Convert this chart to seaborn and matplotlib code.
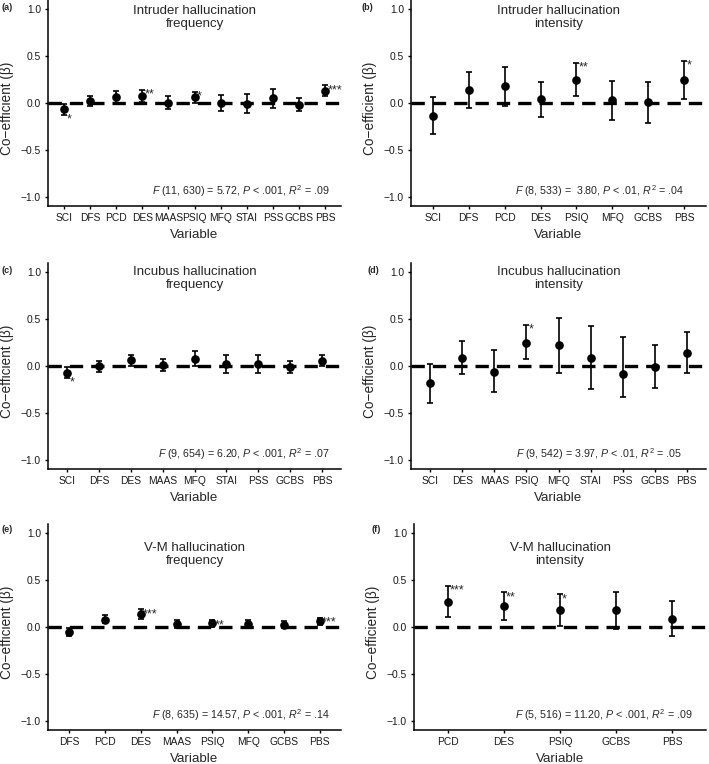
import matplotlib
matplotlib.use("Agg")
import matplotlib.pyplot as plt
import numpy as np
import seaborn as sns

# --- data ---------------------------------------------------------------
a_vars = ["SCI", "DFS", "PCD", "DES", "MAAS", "PSIQ", "MFQ", "STAI", "PSS", "GCBS", "PBS"]
a_beta = [-0.06, 0.02, 0.06, 0.08, 0.00, 0.06, 0.00, -0.01, 0.05, -0.02, 0.13]
a_lo = [-0.13, -0.03, 0.00, 0.01, -0.06, 0.00, -0.09, -0.11, -0.05, -0.09, 0.07]
a_hi = [-0.01, 0.07, 0.13, 0.14, 0.08, 0.12, 0.09, 0.10, 0.15, 0.05, 0.19]
a_sig = ["*", "", "", "**", "", "*", "", "", "", "", "***"]

b_vars = ["SCI", "DFS", "PCD", "DES", "PSIQ", "MFQ", "GCBS", "PBS"]
b_beta = [-0.14, 0.14, 0.18, 0.04, 0.25, 0.03, 0.01, 0.25]
b_lo = [-0.33, -0.05, -0.03, -0.15, 0.08, -0.18, -0.21, 0.04]
b_hi = [0.06, 0.33, 0.38, 0.22, 0.43, 0.23, 0.22, 0.45]
b_sig = ["", "", "", "", "**", "", "", "*"]

c_vars = ["SCI", "DFS", "DES", "MAAS", "MFQ", "STAI", "PSS", "GCBS", "PBS"]
c_beta = [-0.07, 0.00, 0.06, 0.01, 0.07, 0.02, 0.02, -0.01, 0.05]
c_lo = [-0.13, -0.06, 0.00, -0.05, 0.00, -0.08, -0.07, -0.08, 0.00]
c_hi = [-0.01, 0.05, 0.12, 0.08, 0.16, 0.12, 0.12, 0.05, 0.12]
c_sig = ["*", "", "", "", "", "", "", "", ""]

d_vars = ["SCI", "DES", "MAAS", "PSIQ", "MFQ", "STAI", "PSS", "GCBS", "PBS"]
d_beta = [-0.18, 0.09, -0.06, 0.25, 0.22, 0.09, -0.09, -0.01, 0.14]
d_lo = [-0.39, -0.09, -0.28, 0.07, -0.07, -0.25, -0.33, -0.24, -0.08]
d_hi = [0.02, 0.27, 0.17, 0.44, 0.51, 0.43, 0.31, 0.22, 0.36]
d_sig = ["", "", "", "*", "", "", "", "", ""]

e_vars = ["DFS", "PCD", "DES", "MAAS", "PSIQ", "MFQ", "GCBS", "PBS"]
e_beta = [-0.05, 0.08, 0.14, 0.03, 0.04, 0.03, 0.02, 0.06]
e_lo = [-0.10, 0.04, 0.09, -0.01, 0.00, 0.00, -0.01, 0.02]
e_hi = [-0.01, 0.13, 0.19, 0.07, 0.07, 0.07, 0.06, 0.10]
e_sig = ["", "", "***", "", "**", "", "", "***"]

f_vars = ["PCD", "DES", "PSIQ", "GCBS", "PBS"]
f_beta = [0.27, 0.22, 0.18, 0.18, 0.09]
f_lo = [0.11, 0.07, 0.01, -0.02, -0.10]
f_hi = [0.44, 0.37, 0.35, 0.37, 0.28]
f_sig = ["***", "**", "*", "", ""]

titles = ["Intruder hallucination\nfrequency", "Intruder hallucination\nintensity",
          "Incubus hallucination\nfrequency", "Incubus hallucination\nintensity",
          "V-M hallucination\nfrequency", "V-M hallucination\nintensity"]
stats = [
    r"$\it{F}$ (11, 630) = 5.72, $\it{P}$ < .001, $\it{R}^2$ = .09",
    r"$\it{F}$ (8, 533) =  3.80, $\it{P}$ < .01, $\it{R}^2$ = .04",
    r"$\it{F}$ (9, 654) = 6.20, $\it{P}$ < .001, $\it{R}^2$ = .07",
    r"$\it{F}$ (9, 542) = 3.97, $\it{P}$ < .01, $\it{R}^2$ = .05",
    r"$\it{F}$ (8, 635) = 14.57, $\it{P}$ < .001, $\it{R}^2$ = .14",
    r"$\it{F}$ (5, 516) = 11.20, $\it{P}$ < .001, $\it{R}^2$ = .09",
]
letters = ["(a)", "(b)", "(c)", "(d)", "(e)", "(f)"]

panels = [
    (a_vars, a_beta, a_lo, a_hi, a_sig),
    (b_vars, b_beta, b_lo, b_hi, b_sig),
    (c_vars, c_beta, c_lo, c_hi, c_sig),
    (d_vars, d_beta, d_lo, d_hi, d_sig),
    (e_vars, e_beta, e_lo, e_hi, e_sig),
    (f_vars, f_beta, f_lo, f_hi, f_sig),
]

# --- layout (pixels in the 709x764 canvas) ------------------------------
W, H = 709, 764
rects = [(48, 0, 293, 206), (411, 0, 295, 206),
         (48, 263, 293, 206), (411, 263, 295, 206),
         (48, 524, 293, 206), (414, 524, 292, 206)]
title_y = [0.915, 0.915, 0.935, 0.935, 0.77, 0.77]
stat_right = [330, 684, 330, 682, 330, 693]
letter_pos = [(2, 7), (362, 7), (2, 270), (368, 270), (2, 529), (372, 529)]

sns.set_style("ticks")
plt.rcParams["font.family"] = ["Liberation Sans", "DejaVu Sans"]
plt.rcParams["mathtext.fontset"] = "custom"
plt.rcParams["mathtext.rm"] = "Liberation Sans"
plt.rcParams["mathtext.it"] = "Liberation Sans:italic"

fig = plt.figure(figsize=(W / 100, H / 100), dpi=100)

for k, (vars_, beta, lo, hi, sig) in enumerate(panels):
    x0, top, w, h = rects[k]
    ax = fig.add_axes([x0 / W, (H - top - h) / H, w / W, h / H])
    n = len(vars_)
    pos = np.arange(n)
    beta = np.array(beta)
    lo = np.array(lo)
    hi = np.array(hi)

    ax.errorbar(pos, beta, yerr=[beta - lo, hi - beta], fmt="none",
                ecolor="black", elinewidth=1.2, capsize=2.5, capthick=1.2, zorder=2)
    sns.pointplot(x=pos, y=beta, native_scale=True, linestyle="none", errorbar=None,
                  color="black", markersize=4.2, ax=ax, zorder=3)
    ax.axhline(0, color="black", lw=2.4, ls=(0, (4, 2.4)), zorder=4)

    for i, s in enumerate(sig):
        if not s:
            continue
        if beta[i] >= 0:
            ax.annotate(s, xy=(pos[i], hi[i]), xytext=(1.5, -3.5), textcoords="offset points",
                        ha="left", va="center", fontsize=9)
        else:
            ax.annotate(s, xy=(pos[i], lo[i]), xytext=(2, 1), textcoords="offset points",
                        ha="left", va="top", fontsize=9)

    ax.set_xlim(-0.6, n - 0.4)
    ax.set_ylim(-1.1, 1.1)
    ax.set_yticks([-1.0, -0.5, 0.0, 0.5, 1.0])
    ax.set_yticklabels(["\u22121.0", "\u22120.5", "0.0", "0.5", "1.0"])
    ax.set_xticks(pos)
    ax.set_xticklabels(vars_)
    sns.despine(ax=ax)
    for sp in ["left", "bottom"]:
        ax.spines[sp].set_linewidth(1.1)
        ax.spines[sp].set_color("black")
    ax.tick_params(axis="both", length=2.5, width=1.0, color="black",
                   labelsize=7.4, labelcolor="#1a1a1a", pad=2.5)

    ax.set_xlabel("Variable", fontsize=9.6)
    ax.set_ylabel("Co\u2212efficient (\u03b2)", fontsize=9.8)
    ax.xaxis.set_label_coords(0.5, -23 / h)
    ax.yaxis.set_label_coords(-34 / w, 0.475)

    ax.text((n - 1) / 2, title_y[k], titles[k], ha="center", va="center",
            fontsize=9.5, linespacing=1.1)
    ax.text((stat_right[k] - x0) / w, -0.94, stats[k], transform=ax.get_yaxis_transform(),
            ha="right", va="center", fontsize=7.7)
    lx, ly = letter_pos[k]
    fig.text(lx / W, 1 - ly / H, letters[k], ha="left", va="center",
             fontsize=6.5, fontweight="bold")

fig.savefig("out.png", dpi=100)
